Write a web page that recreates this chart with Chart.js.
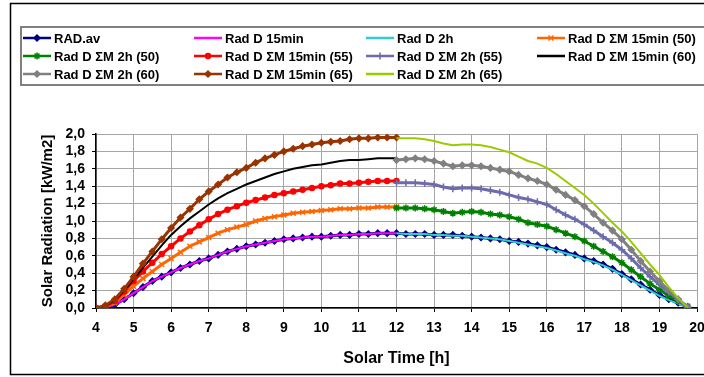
<!DOCTYPE html>
<html>
<head>
<meta charset="utf-8">
<script src="https://cdn.jsdelivr.net/npm/chart.js@4.4.1/dist/chart.umd.min.js"></script>
<style>
  html, body { margin: 0; padding: 0; background: #fff; }
  #wrap { width: 704px; height: 377px; }
</style>
</head>
<body>
<div id="wrap"><canvas id="myChart" width="704" height="377"></canvas></div>
<script>
// horas solares (cada 15 min)
const hoursDay = [4, 4.25, 4.5, 4.75, 5, 5.25, 5.5, 5.75, 6, 6.25, 6.5, 6.75, 7, 7.25, 7.5, 7.75,
  8, 8.25, 8.5, 8.75, 9, 9.25, 9.5, 9.75, 10, 10.25, 10.5, 10.75, 11, 11.25, 11.5, 11.75,
  12, 12.25, 12.5, 12.75, 13, 13.25, 13.5, 13.75, 14, 14.25, 14.5, 14.75, 15, 15.25, 15.5, 15.75,
  16, 16.25, 16.5, 16.75, 17, 17.25, 17.5, 17.75, 18, 18.25, 18.5, 18.75, 19, 19.25, 19.5, 19.75];
const hoursAm = [4, 4.25, 4.5, 4.75, 5, 5.25, 5.5, 5.75, 6, 6.25, 6.5, 6.75, 7, 7.25, 7.5, 7.75,
  8, 8.25, 8.5, 8.75, 9, 9.25, 9.5, 9.75, 10, 10.25, 10.5, 10.75, 11, 11.25, 11.5, 11.75, 12];
const hoursPm = [12, 12.25, 12.5, 12.75, 13, 13.25, 13.5, 13.75, 14, 14.25, 14.5, 14.75, 15, 15.25, 15.5, 15.75,
  16, 16.25, 16.5, 16.75, 17, 17.25, 17.5, 17.75, 18, 18.25, 18.5, 18.75, 19, 19.25, 19.5, 19.75];

const timeTicks = [4, 5, 6, 7, 8, 9, 10, 11, 12, 13, 14, 15, 16, 17, 18, 19, 20];
const radTicks = [0, 0.2, 0.4, 0.6, 0.8, 1.0, 1.2, 1.4, 1.6, 1.8, 2.0];

// kW/m2
const radAv = [0.00, 0.01, 0.04, 0.10, 0.17, 0.24, 0.31, 0.36, 0.41, 0.46, 0.50, 0.54, 0.57, 0.61, 0.65, 0.68,
  0.71, 0.73, 0.75, 0.77, 0.79, 0.80, 0.81, 0.82, 0.82, 0.83, 0.84, 0.84, 0.85, 0.85, 0.86, 0.86,
  0.86, 0.85, 0.85, 0.85, 0.84, 0.84, 0.84, 0.83, 0.82, 0.81, 0.80, 0.79, 0.77, 0.76, 0.74, 0.72,
  0.70, 0.67, 0.64, 0.61, 0.57, 0.54, 0.50, 0.45, 0.39, 0.33, 0.27, 0.21, 0.15, 0.10, 0.06, 0.01];
const radD15 = [0.00, 0.01, 0.04, 0.10, 0.17, 0.24, 0.31, 0.36, 0.41, 0.46, 0.50, 0.54, 0.57, 0.61, 0.65, 0.68,
  0.71, 0.73, 0.75, 0.77, 0.79, 0.80, 0.81, 0.82, 0.82, 0.83, 0.84, 0.84, 0.85, 0.85, 0.86, 0.86, 0.86];
const radD2h = [0.86, 0.85, 0.85, 0.85, 0.84, 0.84, 0.83, 0.83, 0.82, 0.81, 0.80, 0.79, 0.77, 0.75, 0.73, 0.71,
  0.69, 0.66, 0.63, 0.60, 0.56, 0.53, 0.49, 0.44, 0.38, 0.32, 0.26, 0.20, 0.14, 0.09, 0.05, 0.01];
const sm15_50 = [0.00, 0.01, 0.06, 0.15, 0.25, 0.34, 0.42, 0.50, 0.57, 0.64, 0.71, 0.76, 0.81, 0.86, 0.90, 0.93,
  0.96, 1.00, 1.03, 1.05, 1.07, 1.09, 1.10, 1.11, 1.12, 1.13, 1.14, 1.14, 1.15, 1.15, 1.16, 1.16, 1.16];
const sm2h_50 = [1.15, 1.15, 1.15, 1.14, 1.13, 1.11, 1.09, 1.10, 1.11, 1.10, 1.08, 1.07, 1.05, 1.02, 0.98, 0.96,
  0.94, 0.90, 0.86, 0.82, 0.77, 0.71, 0.65, 0.59, 0.52, 0.44, 0.36, 0.28, 0.21, 0.14, 0.08, 0.02];
const sm15_55 = [0.00, 0.02, 0.08, 0.19, 0.31, 0.42, 0.52, 0.62, 0.71, 0.80, 0.88, 0.95, 1.02, 1.08, 1.13, 1.17,
  1.21, 1.24, 1.27, 1.30, 1.32, 1.34, 1.36, 1.38, 1.40, 1.41, 1.43, 1.43, 1.44, 1.45, 1.46, 1.46, 1.46];
const sm2h_55 = [1.44, 1.44, 1.44, 1.43, 1.42, 1.39, 1.37, 1.38, 1.38, 1.37, 1.35, 1.33, 1.30, 1.27, 1.25, 1.22,
  1.19, 1.13, 1.07, 1.02, 0.96, 0.89, 0.82, 0.75, 0.67, 0.57, 0.46, 0.36, 0.27, 0.18, 0.10, 0.01];
const sm15_60 = [0.00, 0.02, 0.09, 0.20, 0.33, 0.46, 0.59, 0.72, 0.84, 0.94, 1.03, 1.11, 1.19, 1.26, 1.32, 1.37,
  1.42, 1.46, 1.50, 1.54, 1.57, 1.60, 1.62, 1.64, 1.65, 1.67, 1.69, 1.70, 1.70, 1.71, 1.72, 1.72, 1.72];
const sm2h_60 = [1.70, 1.71, 1.72, 1.71, 1.69, 1.66, 1.63, 1.64, 1.64, 1.63, 1.61, 1.59, 1.57, 1.53, 1.49, 1.46,
  1.42, 1.36, 1.30, 1.24, 1.17, 1.08, 0.98, 0.89, 0.79, 0.67, 0.54, 0.42, 0.31, 0.20, 0.10, 0.01];
const sm15_65 = [0.00, 0.03, 0.10, 0.22, 0.36, 0.51, 0.65, 0.79, 0.92, 1.04, 1.14, 1.25, 1.34, 1.42, 1.50, 1.56,
  1.61, 1.67, 1.72, 1.76, 1.80, 1.83, 1.86, 1.88, 1.90, 1.91, 1.92, 1.94, 1.95, 1.95, 1.96, 1.96, 1.96];
const sm2h_65 = [1.95, 1.95, 1.95, 1.94, 1.92, 1.89, 1.87, 1.88, 1.88, 1.87, 1.85, 1.82, 1.79, 1.74, 1.69, 1.66,
  1.61, 1.54, 1.46, 1.38, 1.30, 1.20, 1.09, 0.98, 0.88, 0.76, 0.63, 0.50, 0.38, 0.24, 0.11, 0.01];

const FONT = "'Liberation Sans', Arial, sans-serif";
Chart.defaults.font.family = FONT;
Chart.defaults.font.weight = "bold";
Chart.defaults.color = "#000";

function pts(xs, ys) {
  return xs.map((x, i) => ({ x: x, y: ys[i] }));
}

// estilo de cada serie
function serie(label, xs, ys, color, style, r) {
  return {
    label: label,
    data: pts(xs, ys),
    borderColor: color,
    backgroundColor: color,
    pointBackgroundColor: color,
    pointBorderColor: color,
    pointStyle: style || "circle",
    pointRadius: r || 0,
    pointBorderWidth: 1.5,
    borderWidth: r ? 3 : 2,
    tension: 0,
    fill: false,
  };
}

const datasets = [
  serie("RAD.av", hoursDay, radAv, "#000080", "rectRot", 3),
  serie("Rad D 15min", hoursAm, radD15, "#FF00FF"),
  serie("Rad D 2h", hoursPm, radD2h, "#33CCCC"),
  serie("Rad D ΣM 15min (50)", hoursAm, sm15_50, "#FF6600", "crossRot", 3.5),
  serie("Rad D ΣM 2h (50)", hoursPm, sm2h_50, "#008000", "star", 3.5),
  serie("Rad D ΣM 15min (55)", hoursAm, sm15_55, "#FF0000", "circle", 2.5),
  serie("Rad D ΣM 2h (55)", hoursPm, sm2h_55, "#6B6BAE", "cross", 3.5),
  serie("Rad D ΣM 15min (60)", hoursAm, sm15_60, "#000000"),
  serie("Rad D ΣM 2h (60)", hoursPm, sm2h_60, "#808080", "rectRot", 3),
  serie("Rad D ΣM 15min (65)", hoursAm, sm15_65, "#993300", "rectRot", 3),
  serie("Rad D ΣM 2h (65)", hoursPm, sm2h_65, "#99CC00"),
];
// las series posteriores se dibujan encima
datasets.forEach((ds, i) => { ds.order = datasets.length - i; });

// marco, caja de leyenda y leyenda en 4 columnas
const boxLegend = {
  id: "boxLegend",
  beforeDraw(chart) {
    const ctx = chart.ctx;
    ctx.save();
    ctx.fillStyle = "#fff";
    ctx.fillRect(0, 0, chart.width, chart.height);
    ctx.strokeStyle = "#000";
    ctx.lineWidth = 1.5;
    ctx.strokeRect(10.5, 3.5, chart.width, 371);
    ctx.strokeStyle = "#808080";
    ctx.lineWidth = 2;
    ctx.strokeRect(21, 27, chart.width, 58);
    ctx.restore();
  },
  afterDraw(chart) {
    const ctx = chart.ctx;
    const colX = [23, 194, 366, 537];
    const rowY = [38, 56, 74];
    chart.data.datasets.forEach((ds, i) => {
      const x = colX[i % 4];
      const y = rowY[Math.floor(i / 4)];
      ctx.save();
      ctx.strokeStyle = ds.borderColor;
      ctx.lineWidth = 2.5;
      ctx.beginPath();
      ctx.moveTo(x, y);
      ctx.lineTo(x + 28, y);
      ctx.stroke();
      if (ds.pointRadius > 0) {
        ctx.fillStyle = ds.pointBackgroundColor;
        ctx.strokeStyle = ds.pointBorderColor;
        ctx.lineWidth = 1.5;
        Chart.helpers.drawPoint(ctx, { pointStyle: ds.pointStyle, radius: ds.pointRadius, rotation: 0, borderWidth: 1.5 }, x + 14, y);
      }
      ctx.fillStyle = "#000";
      ctx.font = "bold 13px " + FONT;
      ctx.textBaseline = "middle";
      ctx.fillText(ds.label, x + 31, y + 1);
      ctx.restore();
    });
  },
};

const ctx = document.getElementById("myChart").getContext("2d");
window.myChart = new Chart(ctx, {
  type: "line",
  data: { datasets: datasets },
  plugins: [boxLegend],
  options: {
    responsive: false,
    animation: false,
    layout: { padding: { left: 10, top: 134, right: 0, bottom: 0 } },
    plugins: { legend: { display: false }, tooltip: { enabled: false } },
    scales: {
      x: {
        type: "linear",
        min: 4,
        max: 20,
        afterBuildTicks: (scale) => { scale.ticks = timeTicks.map((v) => ({ value: v })); },
        afterFit: (scale) => { scale.height = 69; scale.paddingRight = 7; },
        ticks: { font: { size: 14, weight: "bold" }, padding: 8, color: "#000", autoSkip: false, maxRotation: 0 },
        grid: { color: "#a6a6a6", tickColor: "#000", tickLength: 4 },
        border: { color: "#000", width: 1.5 },
        title: { display: true, text: "Solar Time [h]", font: { size: 16, weight: "bold" }, padding: { top: 0, bottom: 9 } },
      },
      y: {
        min: 0,
        max: 2,
        afterBuildTicks: (scale) => { scale.ticks = radTicks.map((v) => ({ value: v })); },
        afterFit: (scale) => { scale.width = 86; },
        ticks: {
          font: { size: 14, weight: "bold" },
          padding: 7,
          color: "#000",
          autoSkip: false,
          callback: (v) => v.toFixed(1).replace(".", ","),
        },
        grid: { color: "#a6a6a6", tickColor: "#000", tickLength: 4 },
        border: { color: "#000", width: 1.5 },
        title: { display: true, text: "Solar Radiation [kW/m2]", font: { size: 15, weight: "bold" }, padding: { top: 29, bottom: 0 } },
      },
    },
  },
});
</script>
</body>
</html>
